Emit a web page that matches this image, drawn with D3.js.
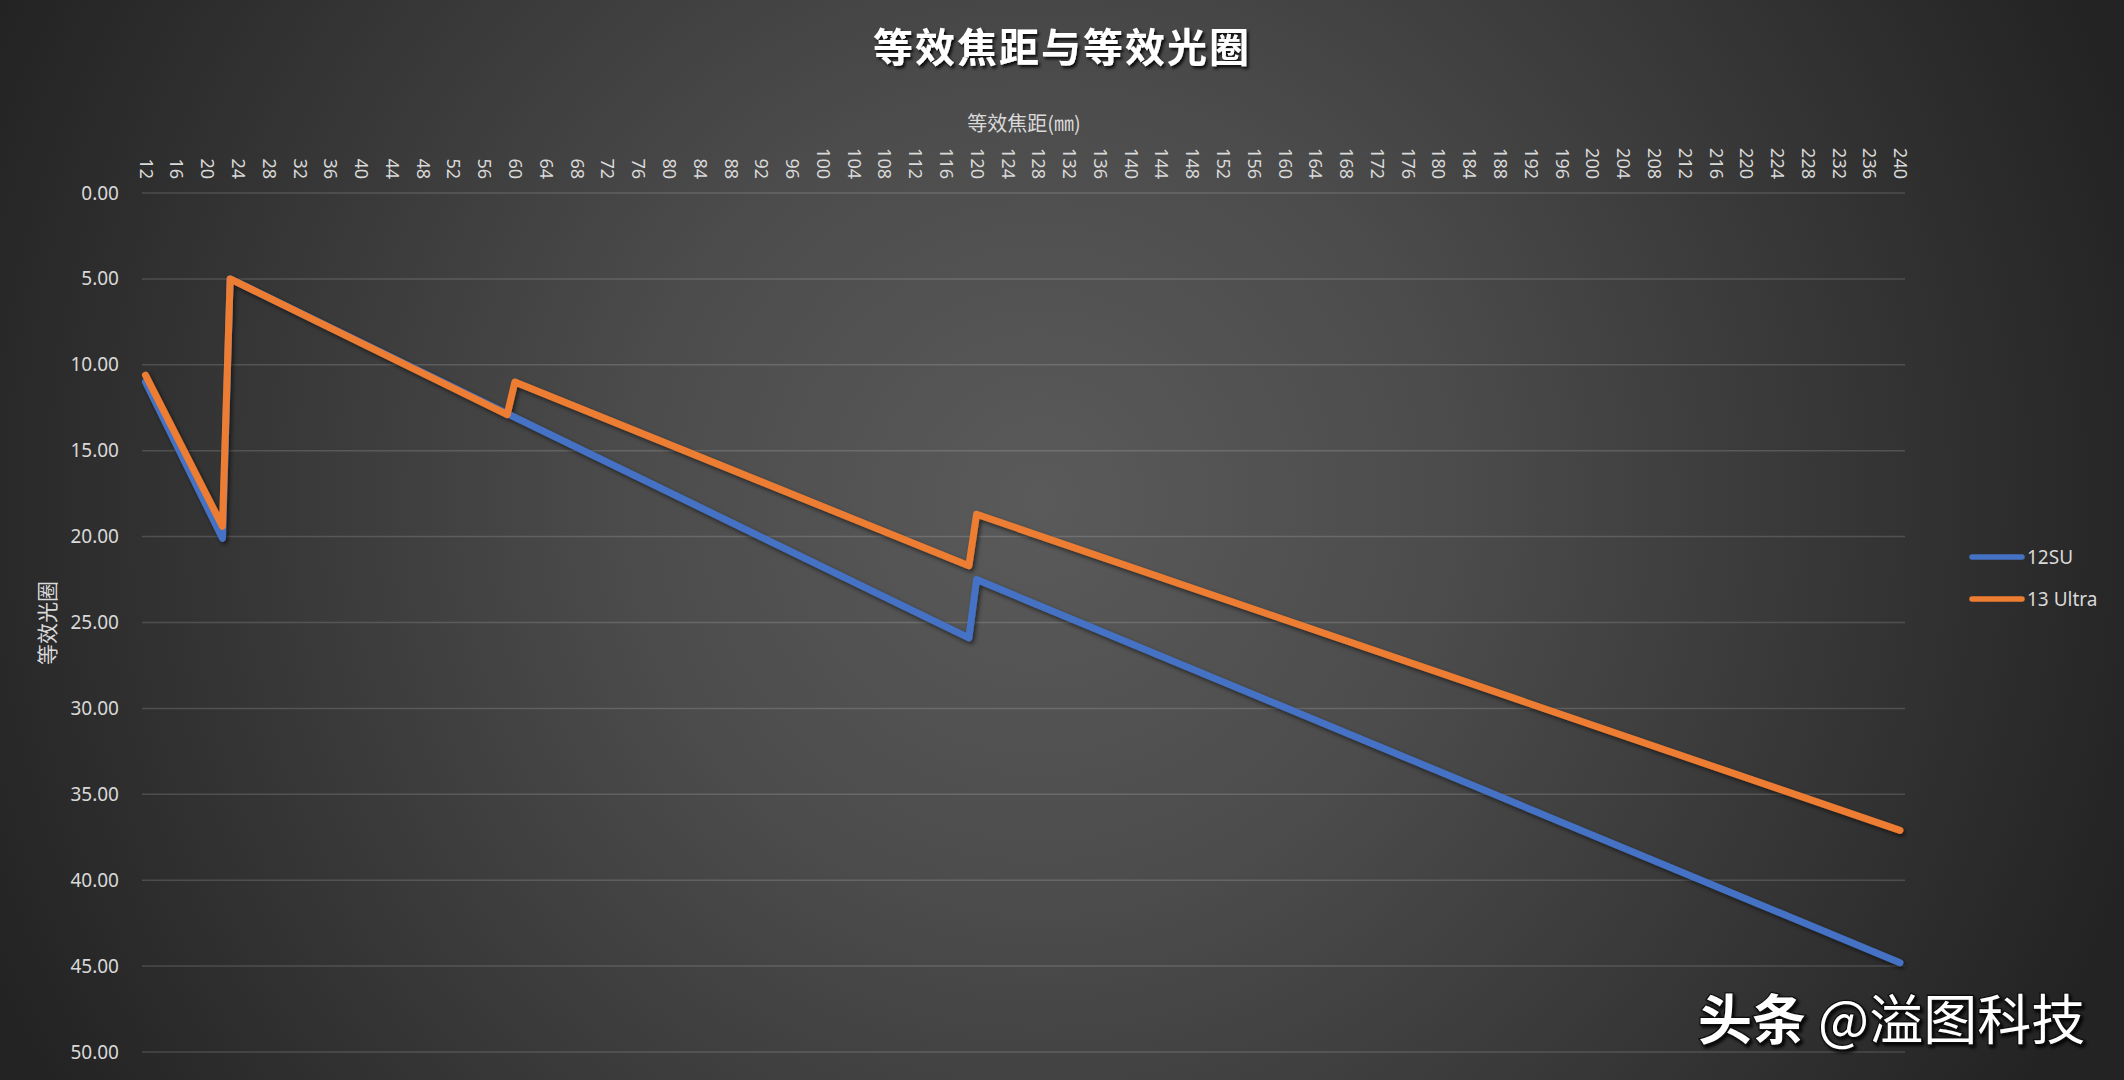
<!DOCTYPE html>
<html>
<head>
<meta charset="utf-8">
<script src="https://cdn.jsdelivr.net/npm/d3@7"></script>
<style>
  html, body { margin: 0; padding: 0; background: #262626; overflow: hidden; }
  svg { display: block; }
</style>
</head>
<body>
<svg id="chart" width="2124" height="1080"></svg>
<script>
// ---- data ----
const chartTitle = "等效焦距与等效光圈";
const xAxisTitle = "等效焦距(㎜)";
const yAxisTitle = "等效光圈";
const seriesNames = ["12SU", "13 Ultra"];
const seriesColors = ["#4472C4", "#ED7D31"];

// focal length (mm) at each break point of the lines, and equivalent aperture there
const focal12SU    = [12,   22,   23,  119,  120,  240];
const aperture12SU = [11.0, 20.1, 5.0, 25.9, 22.5, 44.8];
const focal13U     = [12,   22,   23,  59,   60,   119,  120,  240];
const aperture13U  = [10.6, 19.4, 5.0, 12.9, 11.0, 21.7, 18.7, 37.1];

const xTickLabels = [12, 16, 20, 24, 28, 32, 36, 40, 44, 48, 52, 56, 60, 64, 68, 72, 76, 80,
  84, 88, 92, 96, 100, 104, 108, 112, 116, 120, 124, 128, 132, 136, 140, 144, 148, 152, 156,
  160, 164, 168, 172, 176, 180, 184, 188, 192, 196, 200, 204, 208, 212, 216, 220, 224, 228,
  232, 236, 240];
const yTickValues = [0, 5, 10, 15, 20, 25, 30, 35, 40, 45, 50];
const watermarkBold = "头条";
const watermarkText = " @溢图科技";

// ---- drawing ----
const W = 2124, H = 1080;
const svg = d3.select("#chart");
const defs = svg.append("defs");

const bg = defs.append("radialGradient").attr("id", "bg")
  .attr("gradientUnits", "userSpaceOnUse")
  .attr("cx", 1040).attr("cy", 500).attr("r", 1150);
bg.append("stop").attr("offset", "0").attr("stop-color", "#5a5a5a");
bg.append("stop").attr("offset", "0.35").attr("stop-color", "#4c4c4c");
bg.append("stop").attr("offset", "1").attr("stop-color", "#232323");

const sh = defs.append("filter").attr("id", "lineShadow")
  .attr("x", "-5%").attr("y", "-5%").attr("width", "110%").attr("height", "110%");
sh.append("feDropShadow").attr("dx", 2).attr("dy", 2.5).attr("stdDeviation", 2)
  .attr("flood-color", "#000").attr("flood-opacity", 0.55);

const tsh = defs.append("filter").attr("id", "textShadow")
  .attr("x", "-10%").attr("y", "-30%").attr("width", "120%").attr("height", "160%");
tsh.append("feDropShadow").attr("dx", 2).attr("dy", 2.5).attr("stdDeviation", 1.5)
  .attr("flood-color", "#000").attr("flood-opacity", 0.85);

svg.append("rect").attr("width", W).attr("height", H).attr("fill", "url(#bg)");

const plotLeft = 142, plotRight = 1905;
const x = d3.scaleLinear().domain([12, 240]).range([145.5, 1900]);
const y = d3.scaleLinear().domain([0, 50]).range([193, 1052]);

// gridlines
svg.append("g").selectAll("line").data(yTickValues).join("line")
  .attr("x1", plotLeft).attr("x2", plotRight)
  .attr("y1", d => y(d)).attr("y2", d => y(d))
  .attr("stroke", "rgba(255,255,255,0.15)").attr("stroke-width", 1.5);

// y axis labels
const yAxis = d3.axisLeft(y).tickValues(yTickValues).tickFormat(d3.format(".2f")).tickSize(0).tickPadding(0);
const gy = svg.append("g").attr("transform", "translate(119,0)").call(yAxis);
gy.select(".domain").remove();
gy.selectAll("text").attr("fill", "#d9d9d9")
  .style("font-family", "'Noto Sans', 'Open Sans', sans-serif").style("font-size", "19px");

// x axis labels (top, rotated)
const xAxis = d3.axisTop(x).tickValues(xTickLabels).tickFormat(d => String(d)).tickSize(0).tickPadding(0);
const gx = svg.append("g").attr("transform", "translate(0,179)").call(xAxis);
gx.select(".domain").remove();
gx.selectAll("text")
  .attr("fill", "#d9d9d9")
  .attr("transform", "rotate(90)")
  .attr("x", 0).attr("y", 0).attr("dy", "0.35em")
  .attr("text-anchor", "end")
  .style("font-family", "'Noto Sans', 'Open Sans', sans-serif").style("font-size", "18px");

// series lines
const series = [
  { name: seriesNames[0], color: seriesColors[0], pts: focal12SU.map((f, i) => [f, aperture12SU[i]]) },
  { name: seriesNames[1], color: seriesColors[1], pts: focal13U.map((f, i) => [f, aperture13U[i]]) }
];
const line = d3.line().x(d => x(d[0])).y(d => y(d[1]));
svg.append("g").attr("filter", "url(#lineShadow)")
  .selectAll("path").data(series).join("path")
  .attr("d", d => line(d.pts))
  .attr("fill", "none")
  .attr("stroke", d => d.color)
  .attr("stroke-width", 7)
  .attr("stroke-linejoin", "round")
  .attr("stroke-linecap", "round");

// title
svg.append("text").attr("x", 1062).attr("y", 45)
  .attr("text-anchor", "middle").attr("dominant-baseline", "central")
  .attr("fill", "#ffffff").attr("filter", "url(#textShadow)")
  .style("font-family", "'Noto Sans CJK SC', sans-serif").style("font-size", "40px")
  .style("font-weight", "bold").style("letter-spacing", "2px")
  .text(chartTitle);

// x axis title
svg.append("text").attr("x", 1024).attr("y", 122)
  .attr("text-anchor", "middle").attr("dominant-baseline", "central")
  .attr("fill", "#d9d9d9")
  .style("font-family", "'Noto Sans CJK SC', sans-serif").style("font-size", "20px")
  .text(xAxisTitle);

// y axis title
svg.append("text").attr("transform", "translate(46,623) rotate(-90)")
  .attr("text-anchor", "middle").attr("dominant-baseline", "central")
  .attr("fill", "#d9d9d9")
  .style("font-family", "'Noto Sans CJK SC', sans-serif").style("font-size", "21px")
  .text(yAxisTitle);

// legend
const lg = svg.append("g").selectAll("g").data(series).join("g")
  .attr("transform", (d, i) => `translate(1970,${557 + i * 42})`);
lg.append("line").attr("x1", 2).attr("x2", 52).attr("y1", 0).attr("y2", 0)
  .attr("stroke", d => d.color).attr("stroke-width", 5.5).attr("stroke-linecap", "round");
lg.append("text").attr("x", 57).attr("y", 0).attr("dominant-baseline", "central")
  .attr("fill", "#d9d9d9")
  .style("font-family", "'Noto Sans', 'Open Sans', sans-serif").style("font-size", "19px")
  .text(d => d.name);

// watermark
const wm = svg.append("text").attr("x", 1698).attr("y", 1016)
  .attr("dominant-baseline", "central")
  .attr("fill", "#ffffff").attr("stroke", "#111").attr("stroke-width", 2.5)
  .style("paint-order", "stroke")
  .attr("filter", "url(#textShadow)")
  .style("font-family", "'Noto Sans CJK SC', sans-serif").style("font-size", "54px");
wm.append("tspan").style("font-weight", "bold").text(watermarkBold);
wm.append("tspan").text(watermarkText);
</script>
</body>
</html>
